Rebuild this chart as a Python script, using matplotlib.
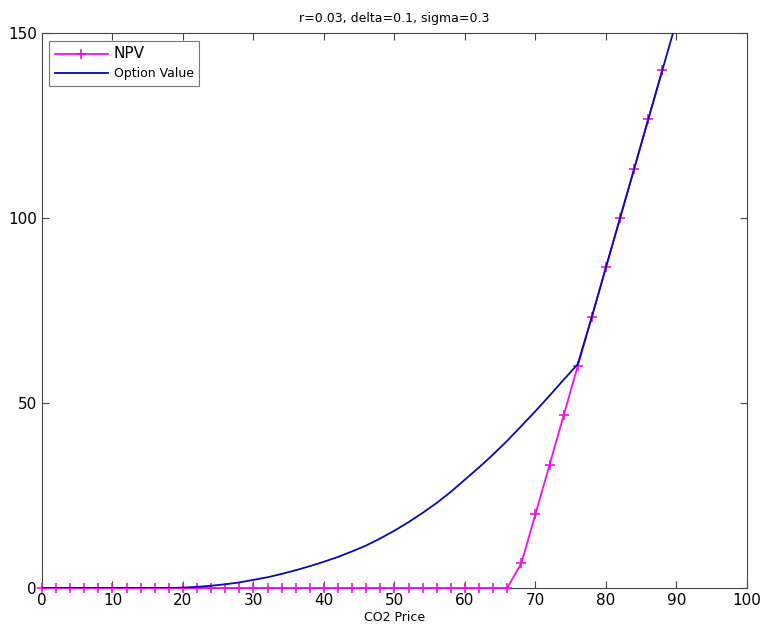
import matplotlib.pyplot as plt
import numpy as np

# CO2 price grid for NPV (markers every 2)
price = list(range(0, 90, 2))

# NPV: zero up to 66, then linear
npv = [0.0] * 34 + [6.7, 20.0, 33.3, 46.7, 60.0, 73.3, 86.7, 100.0, 113.3, 126.7, 140.0]

# option value curve
opt_price = list(range(0, 92, 2))
opt_value = [0, 0, 0, 0, 0, 0, 0, 0, 0, 0,
             0.1, 0.3, 0.6, 1.0, 1.5, 2.2, 2.9, 3.8, 4.8, 5.9,
             7.1, 8.4, 9.9, 11.5, 13.4, 15.5, 17.8, 20.3, 23.0, 26.0,
             29.3, 32.6, 36.1, 39.8, 43.8, 47.8, 52.0, 56.3, 60.5, 73.3,
             86.7, 100.0, 113.3, 126.7, 140.0, 153.3]

title = "r=0.03, delta=0.1, sigma=0.3"

fig = plt.figure(figsize=(7.63, 6.36), dpi=100)
ax = fig.add_axes([0.055, 0.0755, 0.924, 0.8725])

l1, = ax.plot(price, npv, color='#ee10ee', marker='+', markersize=7.5, markeredgewidth=1.2,
              linewidth=1.3, label='NPV', clip_on=False, zorder=3)
l2, = ax.plot(opt_price, opt_value, color='#0a0aa8', linewidth=1.3, label='Option Value', zorder=4)

ax.set_xlim(0, 100)
ax.set_ylim(0, 150)
ax.set_xticks(np.arange(0, 101, 10))
ax.set_yticks([0, 50, 100, 150])
ax.tick_params(direction='in', top=True, right=True, labelsize=11, length=5, color='#444444')
for s in ax.spines.values():
    s.set_color('#444444')
    s.set_linewidth(0.8)

ax.set_title(title, fontsize=9, pad=8)
ax.set_xlabel('CO2 Price', fontsize=9, labelpad=2)

leg = ax.legend(loc='upper left', fancybox=False, edgecolor='#555555', fontsize=9,
                borderaxespad=0.6, handlelength=4.2, handletextpad=0.5, borderpad=0.45,
                labelspacing=0.5)
leg.get_frame().set_linewidth(0.8)
leg.get_texts()[0].set_fontsize(11)

plt.savefig('out.png', dpi=100)
